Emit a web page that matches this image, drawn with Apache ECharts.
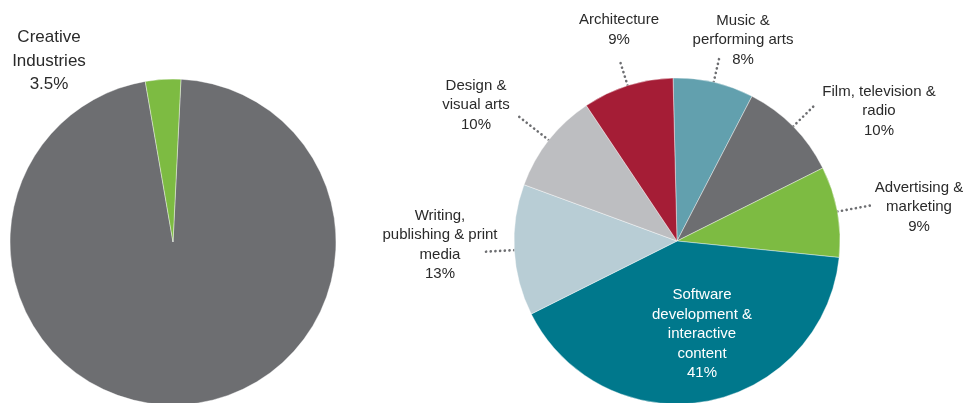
<!DOCTYPE html>
<html>
<head>
<meta charset="utf-8">
<script src="https://cdn.jsdelivr.net/npm/echarts@6/dist/echarts.min.js"></script>
<style>
html,body{margin:0;padding:0;background:#fff;}
#chart{width:965px;height:403px;}
</style>
</head>
<body>
<div id="chart"></div>
<script>
// ---- data ----
const leftCategories = ['Other industries', 'Creative\nIndustries'];
const leftValues = [96.5, 3.5];
const rightCategories = [
  'Music &\nperforming arts',
  'Film, television &\nradio',
  'Advertising &\nmarketing',
  'Software\ndevelopment &\ninteractive\ncontent',
  'Writing,\npublishing & print\nmedia',
  'Design &\nvisual arts',
  'Architecture'
];
const rightValues = [8, 10, 9, 41, 13, 10, 9];

// ---- styles / layout ----
const leftColors = ['#6D6E71', '#7DBB42'];
const rightColors = ['#62A0AE', '#6D6E71', '#7DBB42', '#00788C', '#B8CDD5', '#BDBEC1', '#A51D36'];
const rightLabelPos = [[743, 40], [879, 111], [919, 207], [702, 334], [440, 245], [476, 105], [619, 30]];
const rightLineLen = [25, 32, 33, 0, 31, 39, 26];
const leftLabelPos = [null, [49, 61]];
const textColor = '#2a2a2a';
const fontFamily = '"Liberation Sans", Arial, sans-serif';

const chart = echarts.init(document.getElementById('chart'), null, {renderer: 'canvas'});

const option = {
  animation: false,
  series: [
    {
      type: 'pie',
      center: [173, 242],
      radius: [0, 163],
      startAngle: 87.2,
      clockwise: true,
      silent: true,
      avoidLabelOverlap: false,
      itemStyle: {borderColor: '#ffffff', borderWidth: 0.4},
      label: {show: false},
      labelLine: {show: false},
      labelLayout: function (p) {
        const pos = leftLabelPos[p.dataIndex];
        if (!pos) return {};
        return {x: pos[0], y: pos[1], align: 'center', verticalAlign: 'middle'};
      },
      data: leftCategories.map((name, i) => ({
        name: name,
        value: leftValues[i],
        itemStyle: {color: leftColors[i]},
        label: i === 1 ? {
          show: true,
          position: 'outside',
          formatter: '{b}\n{c}%',
          color: textColor,
          fontFamily: fontFamily,
          fontSize: 17,
          lineHeight: 23.5,
          align: 'center'
        } : {show: false}
      }))
    },
    {
      type: 'pie',
      center: [677, 241],
      radius: [0, 163],
      startAngle: 91.4,
      clockwise: true,
      silent: true,
      avoidLabelOverlap: false,
      itemStyle: {borderColor: '#ffffff', borderWidth: 0.4},
      label: {
        show: true,
        position: 'outside',
        formatter: '{b}\n{c}%',
        color: textColor,
        fontFamily: fontFamily,
        fontSize: 15,
        lineHeight: 19.5,
        align: 'center'
      },
      labelLine: {
        show: true,
        length: 30,
        length2: 0,
        smooth: false,
        lineStyle: {color: '#6D6E71', width: 2.6, type: [0.1, 4.6], cap: 'round'}
      },
      labelLayout: function (p) {
        const pos = rightLabelPos[p.dataIndex];
        const out = {x: pos[0], y: pos[1], align: 'center', verticalAlign: 'middle'};
        if (p.labelLinePoints) {
          out.labelLinePoints = p.labelLinePoints.map(pt => [pt[0], pt[1]]);
        }
        return out;
      },
      data: rightCategories.map((name, i) => {
        const item = {
          name: name,
          value: rightValues[i],
          itemStyle: {color: rightColors[i]},
          labelLine: {length: rightLineLen[i]}
        };
        if (i === 3) {
          item.label = {position: 'inside', color: '#ffffff'};
          item.labelLine = {show: false};
        }
        return item;
      })
    }
  ]
};
chart.setOption(option);
</script>
</body>
</html>
